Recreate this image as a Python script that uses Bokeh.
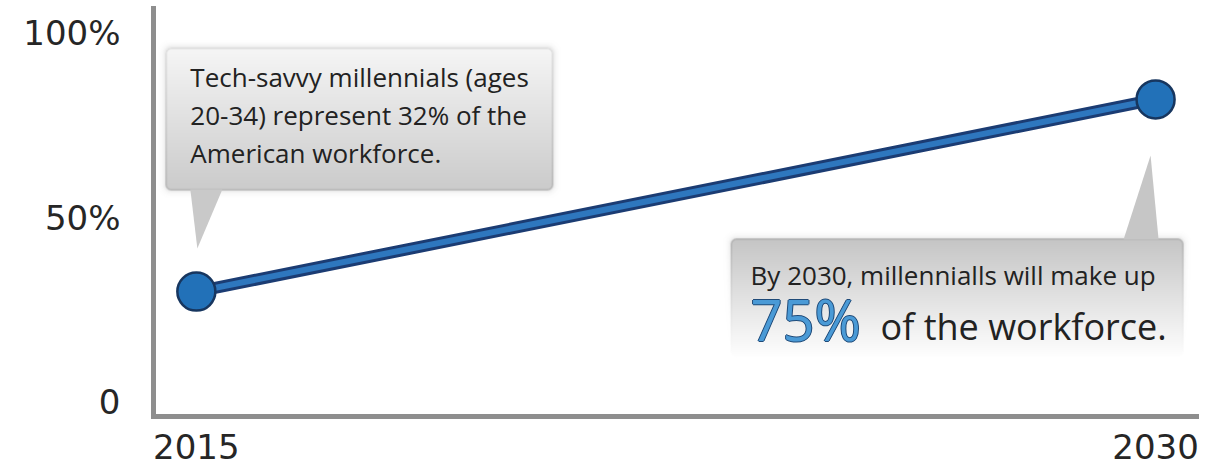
import numpy as np
from bokeh.plotting import figure
from bokeh.models import FixedTicker, Range1d
from bokeh.core.properties import value
from bokeh.embed import file_html
from bokeh.resources import INLINE

# ---- data ----
years = [2015, 2030]
share = [30, 82]
y_ticks = [0, 50, 100]
y_tick_labels = ["0", "50%", "100%"]
x_ticks = [2015, 2030]
x_tick_labels = ["2015", "2030"]
note_2015 = ["Tech-savvy millennials (ages",
             "20-34) represent 32% of the",
             "American workforce."]
note_2030_line1 = "By 2030, millennialls will make up"
note_2030_big = "75%"
note_2030_rest = "of the workforce."

# ---- layout ----
X_START, X_END = 2014.33, 2030.64
Y_START, Y_END = -3.8, 106.6
FRAME_W, FRAME_H = 1043, 408
PXX = FRAME_W / (X_END - X_START)
PXY = FRAME_H / (Y_END - Y_START)

p = figure(frame_width=FRAME_W, frame_height=FRAME_H,
           x_range=Range1d(X_START, X_END), y_range=Range1d(Y_START, Y_END),
           output_backend="svg", toolbar_location=None,
           min_border_left=153, min_border_right=27, min_border_top=8,
           min_border_bottom=57, outline_line_color=None,
           background_fill_color="white", border_fill_color="white")
p.grid.visible = False

AX_FONT = "DejaVu Sans"
for ax in (p.xaxis[0], p.yaxis[0]):
    ax.axis_line_color = "#8e8e8e"
    ax.axis_line_width = 5
    ax.axis_line_cap = "square"
    ax.major_tick_line_color = None
    ax.minor_tick_line_color = None
    ax.major_tick_out = 0
    ax.major_tick_in = 0
    ax.minor_tick_out = 0
    ax.major_label_text_font = AX_FONT
    ax.major_label_text_font_size = "34px"
    ax.major_label_text_color = "#262626"

p.xaxis.ticker = FixedTicker(ticks=x_ticks)
p.xaxis.major_label_overrides = {t: l for t, l in zip(x_ticks, x_tick_labels)}
p.xaxis.major_label_standoff = 17
p.yaxis.ticker = FixedTicker(ticks=y_ticks)
p.yaxis.major_label_overrides = {t: l for t, l in zip(y_ticks, y_tick_labels)}
p.yaxis.major_label_standoff = 33


def to_data(ax, ay, dx, dy):
    return ax + dx / PXX, ay - dy / PXY


def hexrgb(h):
    h = h.lstrip("#")
    return np.array([int(h[i:i + 2], 16) for i in (0, 2, 4)], dtype=float)


def callout_image(w, h, pad, radius, top_hex, bottom_hex, fade):
    H, W = h + 2 * pad, w + 2 * pad
    yy, xx = np.mgrid[0:H, 0:W].astype(float) + 0.5
    cx, cy = W / 2, H / 2
    qx = np.abs(xx - cx) - (w / 2 - radius)
    qy = np.abs(yy - cy) - (h / 2 - radius)
    d = (np.hypot(np.maximum(qx, 0), np.maximum(qy, 0))
         + np.minimum(np.maximum(qx, qy), 0) - radius)
    t = np.clip((yy - pad) / h, 0, 1)
    top, bot = hexrgb(top_hex), hexrgb(bottom_hex)
    col = top[None, None, :] * (1 - t)[..., None] + bot[None, None, :] * t[..., None]
    f = (1 - t) ** 1.5 if fade else np.ones_like(t)
    band = np.clip(1.0 - np.abs(d + 0.8) / 1.2, 0, 1) * f
    col = col * (1 - 0.13 * band[..., None])
    inside = np.clip(0.5 - d, 0, 1)
    sa = np.where(d > 0, 0.15 * np.exp(-np.maximum(d, 0) / 2.5), 0.0) * f
    sh = np.array([90.0, 90.0, 90.0])
    alpha = inside + (1 - inside) * sa
    rgb = (inside[..., None] * col + ((1 - inside) * sa)[..., None] * sh[None, None, :])
    rgb = rgb / np.maximum(alpha, 1e-6)[..., None]
    img = np.zeros((H, W, 4), dtype=np.uint8)
    img[..., :3] = np.clip(rgb, 0, 255).astype(np.uint8)
    img[..., 3] = np.clip(alpha * 255, 0, 255).astype(np.uint8)
    img = img[::-1].copy()
    return img.view(np.uint32).reshape(H, W)


def add_callout(anchor, dx, dy_top, w, h, tri, top_hex, bottom_hex, fade, tri_color):
    ax, ay = anchor
    pad = 8
    img = callout_image(w, h, pad, 6, top_hex, bottom_hex, fade)
    x0, y0 = to_data(ax, ay, dx - pad, dy_top + h + pad)
    p.image_rgba(image=[img], x=x0, y=y0, dw=(w + 2 * pad) / PXX, dh=(h + 2 * pad) / PXY)
    pts = [to_data(ax, ay, tx, ty) for tx, ty in tri]
    p.patch([q[0] for q in pts], [q[1] for q in pts], fill_color=tri_color, line_color=None)


a1 = (years[0], share[0])
a2 = (years[1], share[1])
add_callout(a1, -31, -244, 388, 143, [(-6, -102), (26, -102), (1, -43)],
            "#f6f6f6", "#cbcbcb", False, "#c9c9c9")
add_callout(a2, -425, 139, 453, 119, [(-32, 140), (3, 140), (-5, 56)],
            "#c5c5c5", "#ffffff", True, "#c6c6c6")

# ---- data marks ----
p.line(years, share, line_width=12, line_color="#1b3c73", line_cap="round")
p.line(years, share, line_width=6, line_color="#2e77be")
p.scatter(years, share, size=38, fill_color="#2271b8", line_color="#17365f", line_width=2.5)

# ---- callout texts (anchored at the data points, offsets in screen px) ----
TXT_FONT = "Open Sans"


def note(anchor, txt, dx, baseline_dy, size, color="#222222"):
    p.text(x=[anchor[0]], y=[anchor[1]], text=[txt], x_offset=dx,
           y_offset=baseline_dy - 0.388 * size,
           text_font=value(TXT_FONT), text_font_size=f"{size}px", text_color=color,
           text_baseline="middle", text_align="left")


for i, line in enumerate(note_2015):
    note(a1, line, -6, -204 + 38 * i, 26)

note(a2, note_2030_line1, -405, 186, 26)
for ox, oy in [(-1, 0), (1, 0), (0, -1), (0, 1)]:
    note(a2, note_2030_big, -405 + ox, 241 + oy, 56, "#1f4a78")
note(a2, note_2030_big, -405, 241, 56, "#4a9ad6")
note(a2, note_2030_rest, -275, 241, 36)

open("out.html", "w").write(file_html(p, INLINE))
